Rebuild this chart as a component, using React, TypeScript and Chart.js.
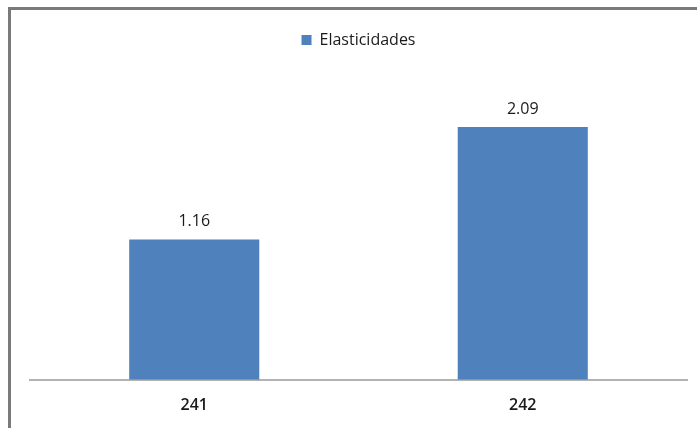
import React, { useEffect, useRef } from "react";
import { Chart, registerables } from "chart.js";

Chart.register(...registerables);

const categories = ["241", "242"];
const seriesName = "Elasticidades";
const values = [1.16, 2.09];

const valueLabels = {
  id: "valueLabels",
  afterDatasetsDraw(chart: any) {
    const ctx = chart.ctx;
    const meta = chart.getDatasetMeta(0);
    ctx.save();
    ctx.font = "16px 'Open Sans'";
    ctx.fillStyle = "#1a1a1a";
    ctx.textAlign = "center";
    ctx.textBaseline = "bottom";
    meta.data.forEach((bar: any, i: number) => {
      ctx.fillText(values[i].toFixed(2), bar.x, bar.y - 10);
    });
    ctx.restore();
  },
};

export default function App() {
  const ref = useRef<HTMLCanvasElement>(null);
  useEffect(() => {
    if (!ref.current) return;
    const chart = new Chart(ref.current, {
      type: "bar",
      data: {
        labels: categories,
        datasets: [
          {
            label: seriesName,
            data: values,
            backgroundColor: "#4f81bd",
            borderWidth: 0,
            categoryPercentage: 1,
            barPercentage: 0.396,
          },
        ],
      },
      options: {
        animation: false,
        responsive: false,
        devicePixelRatio: 1,
        layout: { padding: { left: 30, right: 10, top: 26, bottom: 5 } },
        plugins: {
          legend: {
            display: true,
            position: "top",
            labels: {
              boxWidth: 10,
              boxHeight: 10,
              padding: 6,
              color: "#1a1a1a",
              font: { family: "'Open Sans'", size: 16 },
            },
          },
          tooltip: { enabled: false },
        },
        scales: {
          x: {
            grid: { display: false },
            border: { color: "#b3b3b3", width: 2 },
            ticks: {
              color: "#1a1a1a",
              font: { family: "'Open Sans'", size: 16, weight: 600 },
              padding: 8,
            },
          },
          y: {
            display: false,
            min: 0,
            max: 2.66,
          },
        },
      },
      plugins: [valueLabels],
    });
    return () => chart.destroy();
  }, []);
  return (
    <div style={{ position: "fixed", left: 0, top: 0, width: 697, height: 428, background: "#fff", overflow: "hidden" }}>
      <div
        style={{
          position: "absolute",
          left: 8,
          top: 7,
          width: 800,
          height: 600,
          borderLeft: "3px solid #7a7a7a",
          borderTop: "3px solid #7a7a7a",
        }}
      />
      <canvas ref={ref} width={697} height={428} style={{ position: "absolute", left: 0, top: 0 }} />
    </div>
  );
}
